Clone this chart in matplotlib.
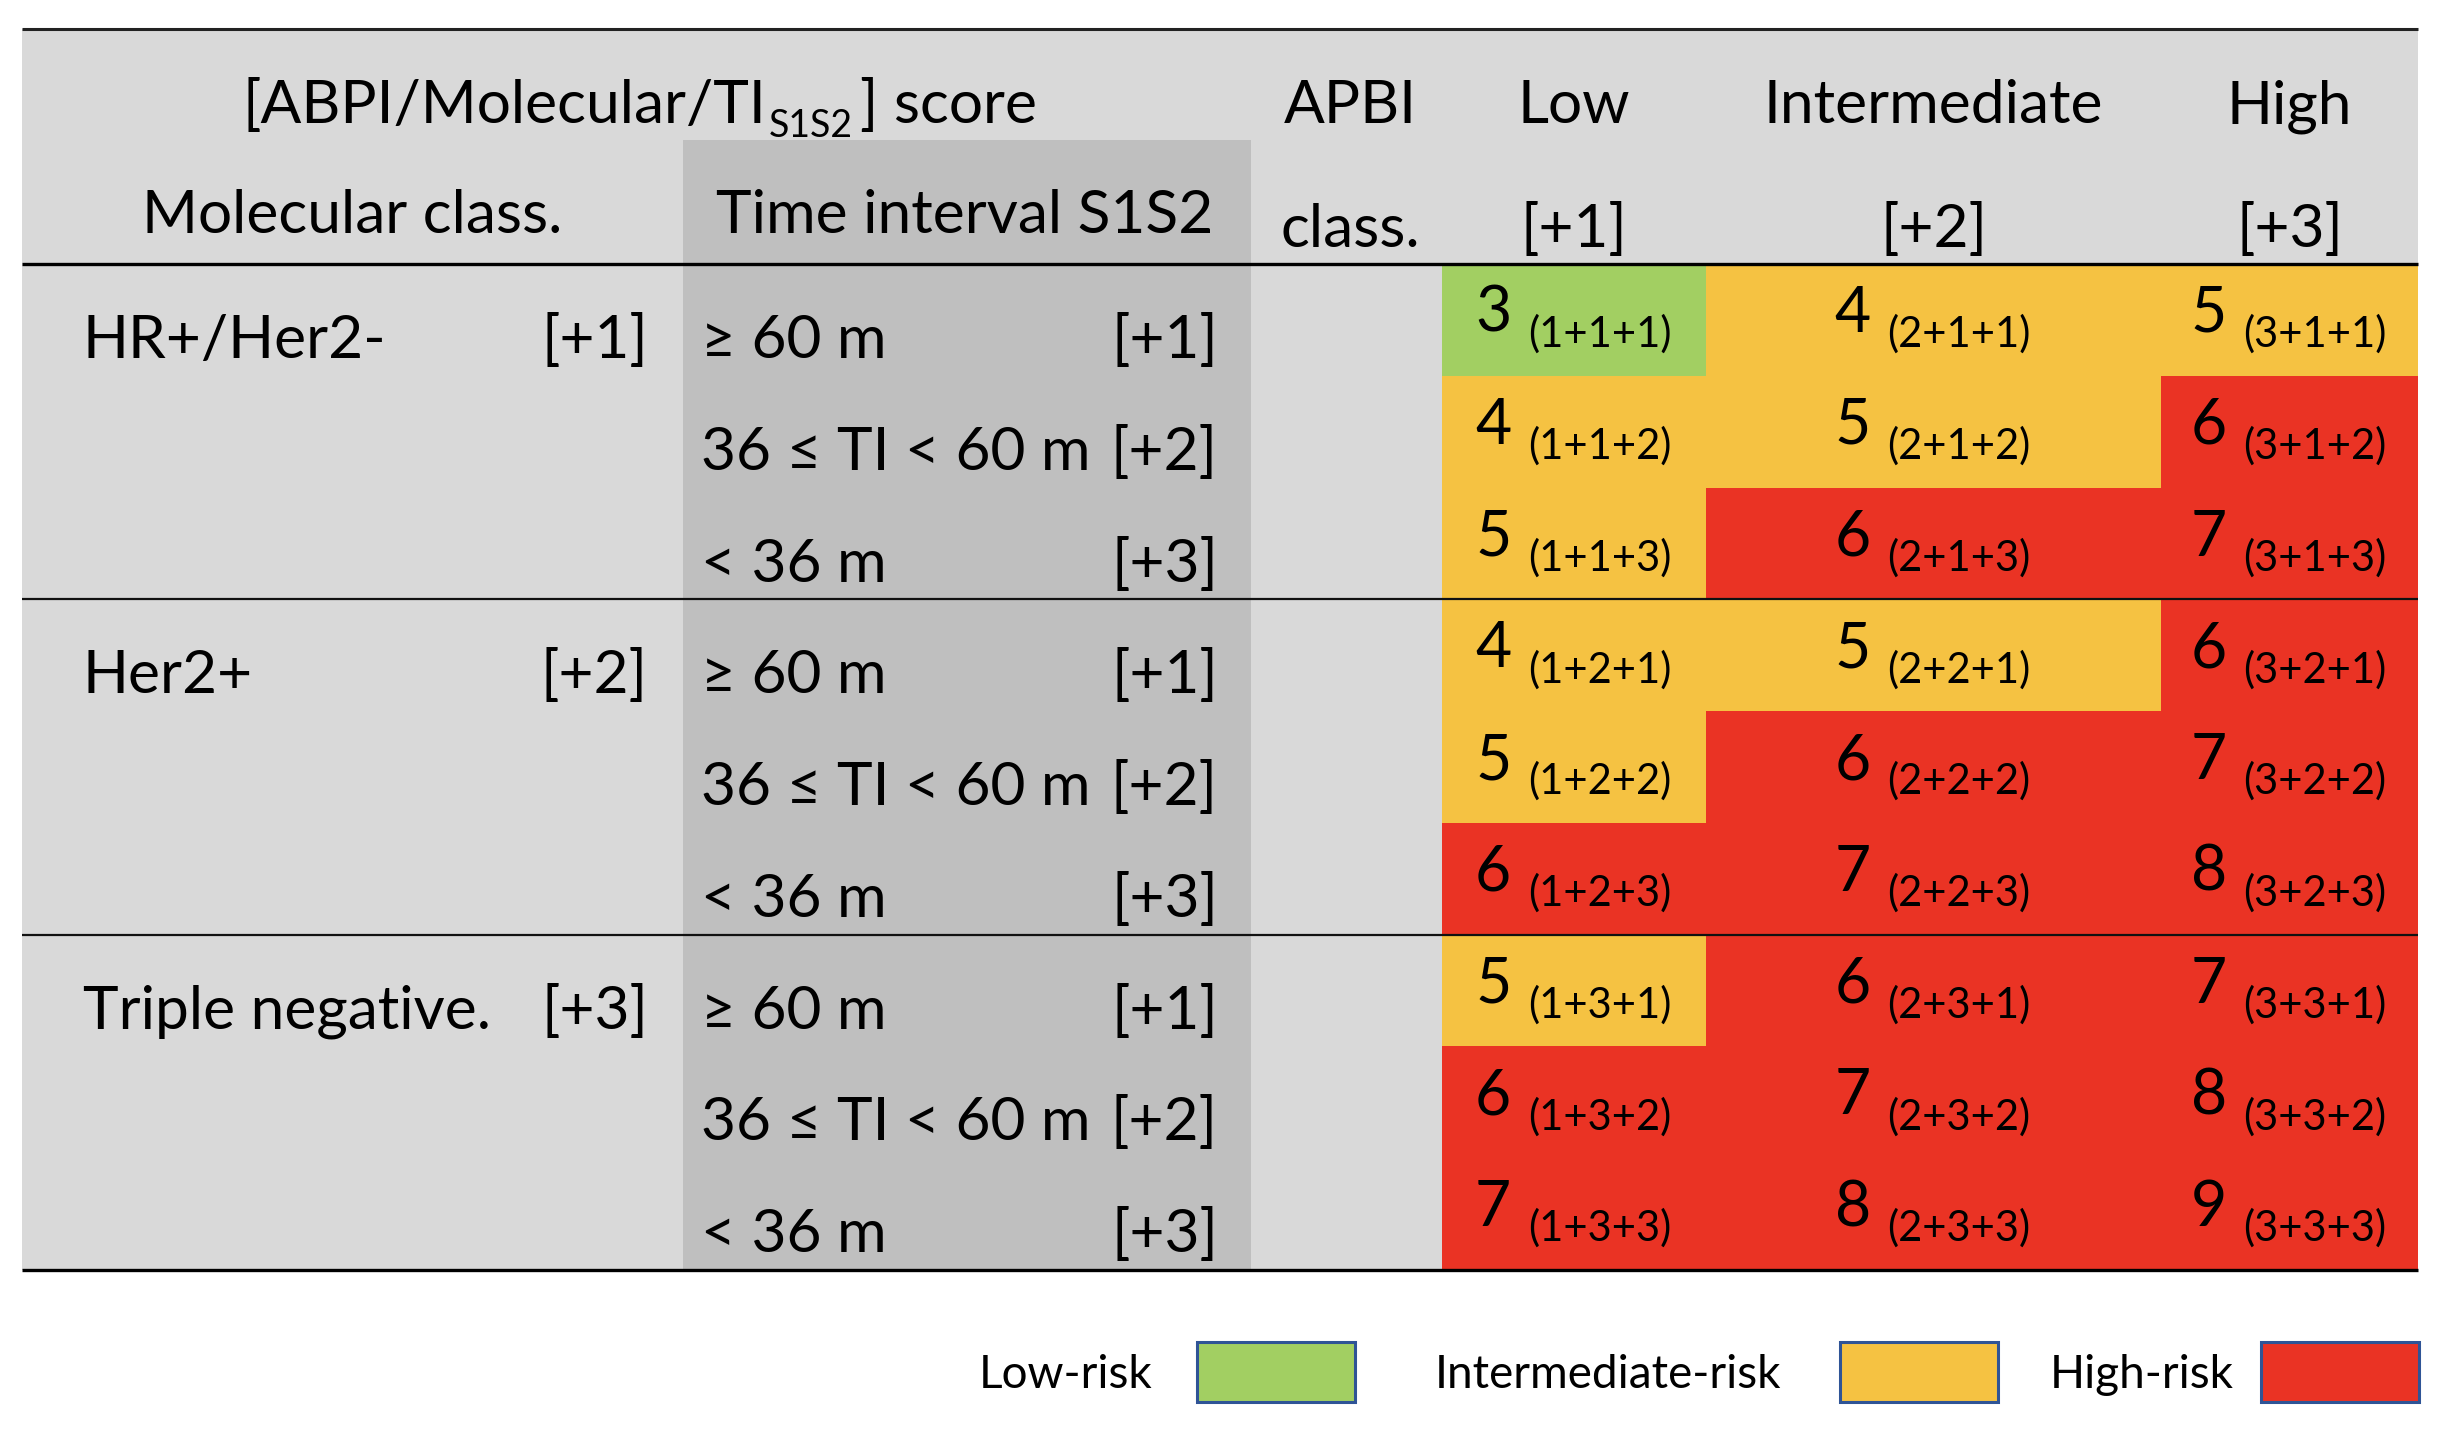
import matplotlib
matplotlib.use('Agg')
import matplotlib.pyplot as plt
from matplotlib.patches import Rectangle

plt.rcParams['font.family'] = ['Lato', 'DejaVu Sans']

# data
mol_classes = ['HR+/Her2-', 'Her2+', 'Triple negative.']
mol_pts = [1, 2, 3]
ti_labels = ['≥ 60 m', '36 ≤ TI < 60 m', '< 36 m']
ti_pts = [1, 2, 3]
apbi_classes = ['Low', 'Intermediate', 'High']
apbi_pts = [1, 2, 3]
scores = [[3, 4, 5], [4, 5, 6], [5, 6, 7],
          [4, 5, 6], [5, 6, 7], [6, 7, 8],
          [5, 6, 7], [6, 7, 8], [7, 8, 9]]
risk = [['L', 'I', 'I'], ['I', 'I', 'H'], ['I', 'H', 'H'],
        ['I', 'I', 'H'], ['I', 'H', 'H'], ['H', 'H', 'H'],
        ['I', 'H', 'H'], ['H', 'H', 'H'], ['H', 'H', 'H']]
risk_names = ['Low-risk', 'Intermediate-risk', 'High-risk']
risk_colors = {'L': '#a2cf62', 'I': '#f5c242', 'H': '#ea3324'}

W, H = 2451, 1431
fig = plt.figure(figsize=(W / 100, H / 100), dpi=100)
ax = fig.add_axes([0, 0, 1, 1])
ax.set_xlim(0, W)
ax.set_ylim(H, 0)
ax.axis('off')

light = '#d9d9d9'
dark = '#bfbfbf'
left, right = 22, 2418
top, head_bot = 29, 264
row_h = (1270 - head_bot) / 9
bottom = head_bot + 9 * row_h
col_x = [1442, 1706, 2161, 2418]   # Low / Intermediate / High cell edges
ti_x0, ti_x1 = 683, 1251

fs = 43.5
fs_small = 30

# backgrounds
ax.add_patch(Rectangle((left, top), right - left, head_bot - top, color=light, lw=0))
ax.add_patch(Rectangle((left, head_bot), col_x[0] - left, bottom - head_bot, color=light, lw=0))
ax.add_patch(Rectangle((ti_x0, 140), ti_x1 - ti_x0, bottom - 140, color=dark, lw=0))

# header text
ax.text(766, 123, '[ABPI/Molecular/TI', fontsize=fs, ha='right', va='baseline')
ax.text(769, 137, 'S1S2', fontsize=27, ha='left', va='baseline')
ax.text(860, 123, '] score', fontsize=fs, ha='left', va='baseline')
ax.text(352, 233, 'Molecular class.', fontsize=fs, ha='center', va='baseline')
ax.text(965, 233, 'Time interval S1S2', fontsize=fs, ha='center', va='baseline')
ax.text(1350, 123, 'APBI', fontsize=fs, ha='center', va='baseline')
ax.text(1350, 247, 'class.', fontsize=fs, ha='center', va='baseline')
for j in range(3):
    cx = (col_x[j] + col_x[j + 1]) / 2
    ax.text(cx, 123, apbi_classes[j], fontsize=fs, ha='center', va='baseline')
    ax.text(cx, 247, f'[+{apbi_pts[j]}]', fontsize=fs, ha='center', va='baseline')

# rows
for g in range(3):
    y0 = head_bot + 3 * g * row_h
    ax.text(83, y0 + 94, mol_classes[g], fontsize=fs, ha='left', va='baseline')
    ax.text(648, y0 + 94, f'[+{mol_pts[g]}]', fontsize=fs, ha='right', va='baseline')
    for t in range(3):
        r = 3 * g + t
        ry = head_bot + r * row_h
        ax.text(701, ry + 94, ti_labels[t], fontsize=fs, ha='left', va='baseline')
        ax.text(1218, ry + 94, f'[+{ti_pts[t]}]', fontsize=fs, ha='right', va='baseline')
        for j in range(3):
            ax.add_patch(Rectangle((col_x[j], ry), col_x[j + 1] - col_x[j], row_h + 0.5,
                                   color=risk_colors[risk[r][j]], lw=0))
            cx = (col_x[j] + col_x[j + 1]) / 2
            ax.text(cx - 99, ry + 68, str(scores[r][j]), fontsize=45, ha='left', va='baseline')
            ax.text(cx - 46, ry + 83, f'({apbi_pts[j]}+{mol_pts[g]}+{ti_pts[t]})',
                    fontsize=fs_small, ha='left', va='baseline')

# rules
ax.plot([left, right], [top, top], color='#222222', lw=2.2, solid_capstyle='butt')
ax.plot([left, right], [head_bot, head_bot], color='black', lw=2.4, solid_capstyle='butt')
for g in (1, 2):
    yy = head_bot + 3 * g * row_h
    ax.plot([left, right], [yy, yy], color='#111111', lw=1.6, solid_capstyle='butt')
ax.plot([left, right], [bottom, bottom], color='black', lw=2.4, solid_capstyle='butt')

# legend
leg_text_x = [1066, 1608, 2142]
leg_box_x = [1197, 1840, 2261]
for k, key in enumerate(['L', 'I', 'H']):
    ax.text(leg_text_x[k], 1388, risk_names[k], fontsize=33, ha='center', va='baseline')
    ax.add_patch(Rectangle((leg_box_x[k], 1342), 158, 60, facecolor=risk_colors[key],
                           edgecolor='#2f5496', lw=2.2))

fig.savefig('out.png', dpi=100)
